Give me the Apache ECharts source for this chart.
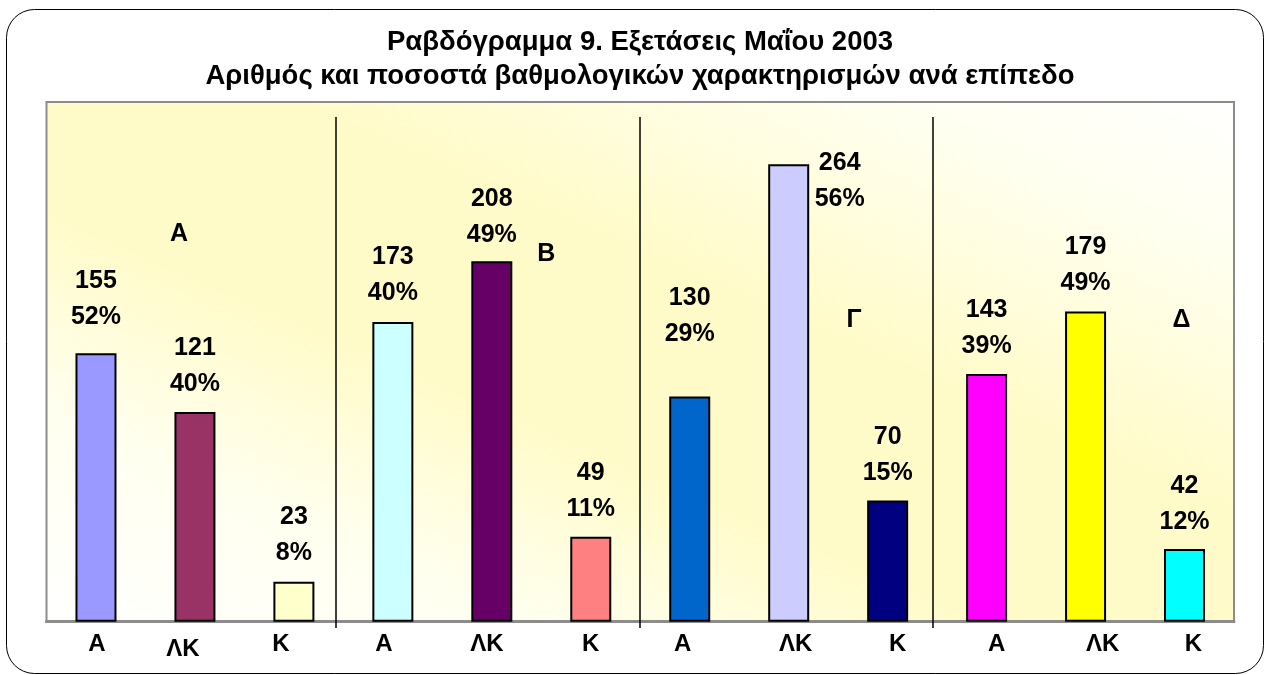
<!DOCTYPE html>
<html>
<head>
<meta charset="utf-8">
<script src="https://cdn.jsdelivr.net/npm/echarts@6/dist/echarts.min.js"></script>
<style>
html, body { margin: 0; padding: 0; background: #fff; }
#chart { width: 1265px; height: 675px; }
</style>
</head>
<body>
<div id="chart"></div>
<script>
// Ραβδόγραμμα 9 - αριθμός και ποσοστά χαρακτηρισμών ανά επίπεδο
var levels = ['Α', 'Β', 'Γ', 'Δ'];
var categories = ['Α', 'ΛΚ', 'Κ', 'Α', 'ΛΚ', 'Κ', 'Α', 'ΛΚ', 'Κ', 'Α', 'ΛΚ', 'Κ'];
var counts = [155, 121, 23, 173, 208, 49, 130, 264, 70, 143, 179, 42];
var percents = [52, 40, 8, 40, 49, 11, 29, 56, 15, 39, 49, 12];

var barColors = ['#9999ff', '#993366', '#ffffcc', '#ccffff', '#660066', '#ff8080',
                 '#0066cc', '#ccccff', '#000080', '#ff00ff', '#ffff00', '#00ffff'];
// gap between bar top and its label
var labelGap = [18, 10, 11, 11, 8, 10, 44, 0, 9, 10, 11, 9];
// the category labels are not exactly under their bars: [dx, dy] in px
var tickShift = [[1, 0], [-12, 5], [-13, -1], [-9, 0], [-5, 0], [0, 0],
                 [-7, 0], [7, 0], [10, 0], [10, 0], [17, 0], [9, 0]];
// level letters and separators, placed on a hidden -0.5..11.5 axis
var levelAt = [[0.84, 224], [4.55, 212], [7.66, 174], [10.97, 174]];
var separatorAt = [2.42, 5.5, 8.46];

var FONT = "'Liberation Sans', Arial, sans-serif";

var chart = echarts.init(document.getElementById('chart'));

var barData = counts.map(function (v, i) {
  var item = {
    value: v,
    itemStyle: { color: barColors[i], borderColor: '#000', borderWidth: 2 },
    label: { distance: labelGap[i] }
  };
  if (i === 7) {
    // 264 sits beside its bar
    item.label = { distance: 0, offset: [51, 53] };
  }
  return item;
});

var axisData = categories.map(function (c, i) {
  var dx = tickShift[i][0], dy = tickShift[i][1];
  return {
    value: c,
    textStyle: {
      padding: [Math.max(dy, 0), Math.max(-2 * dx, 0), 0, Math.max(2 * dx, 0)]
    }
  };
});

chart.setOption({
  animation: false,
  backgroundColor: '#fff',
  title: {
    text: 'Ραβδόγραμμα 9. Εξετάσεις Μαΐου 2003\nΑριθμός και ποσοστά βαθμολογικών χαρακτηρισμών ανά επίπεδο',
    left: 640,
    top: 25,
    padding: 0,
    textAlign: 'center',
    textVerticalAlign: 'top',
    textStyle: { fontFamily: FONT, fontSize: 27.5, fontWeight: 'bold', color: '#000', lineHeight: 34 }
  },
  graphic: [{
    type: 'rect',
    left: 4,
    top: 7,
    shape: { width: 1257, height: 664, r: 28 },
    style: { fill: null, stroke: '#000', lineWidth: 1 },
    silent: true
  }],
  grid: [{
    left: 46.5, right: 31, top: 102, bottom: 53.3,
    show: true,
    borderColor: '#8c8c8c',
    borderWidth: 2,
    backgroundColor: new echarts.graphic.LinearGradient(0.34, 1.34, 0.66, -0.34, [
      { offset: 0, color: '#ffffff' },
      { offset: 0.2, color: '#fffff0' },
      { offset: 0.4, color: '#fffbc8' },
      { offset: 0.6, color: '#fffbc8' },
      { offset: 0.85, color: '#fffff0' },
      { offset: 1, color: '#ffffff' }
    ]),
    outerBoundsMode: 'none'
  }, {
    left: 46.5, right: 31, top: 117, bottom: 47,
    show: false,
    outerBoundsMode: 'none'
  }],
  xAxis: [{
    type: 'category',
    gridIndex: 0,
    data: axisData,
    axisLine: { lineStyle: { color: '#8c8c8c', width: 3 } },
    axisTick: { show: false },
    splitLine: { show: false },
    axisLabel: {
      interval: 0, margin: 11,
      fontFamily: FONT, fontSize: 24, fontWeight: 'bold', color: '#000'
    }
  }, {
    type: 'value', gridIndex: 0, min: -0.5, max: 11.5, show: false
  }, {
    type: 'value', gridIndex: 1, min: -0.5, max: 11.5, show: false
  }],
  yAxis: [{
    type: 'value', gridIndex: 0, min: 0, max: 300, show: false
  }, {
    type: 'value', gridIndex: 1, min: 0, max: 1, show: false
  }],
  series: [{
    type: 'bar',
    xAxisIndex: 0,
    yAxisIndex: 0,
    barWidth: 41,
    data: barData,
    label: {
      show: true,
      position: 'top',
      fontFamily: FONT, fontSize: 25, fontWeight: 'bold', color: '#000', lineHeight: 36,
      formatter: function (p) {
        return counts[p.dataIndex] + '\n' + percents[p.dataIndex] + '%';
      }
    },
    silent: true
  }, {
    type: 'scatter',
    xAxisIndex: 1,
    yAxisIndex: 0,
    symbolSize: 1,
    itemStyle: { color: 'rgba(0,0,0,0)', opacity: 1 },
    data: levels.map(function (l, i) { return { name: l, value: levelAt[i] }; }),
    label: {
      show: true, position: 'inside', formatter: '{b}',
      fontFamily: FONT, fontSize: 25, fontWeight: 'bold', color: '#000'
    },
    silent: true
  }, {
    type: 'scatter',
    xAxisIndex: 2,
    yAxisIndex: 1,
    symbolSize: 0,
    itemStyle: { color: 'rgba(0,0,0,0)' },
    data: separatorAt.map(function (x) { return [x, 0]; }),
    markLine: {
      silent: true,
      symbol: ['none', 'none'],
      label: { show: false },
      lineStyle: { color: '#000', width: 1.5, type: 'solid' },
      data: separatorAt.map(function (x) {
        return [{ coord: [x, 0] }, { coord: [x, 1] }];
      })
    },
    silent: true
  }]
});
</script>
</body>
</html>
